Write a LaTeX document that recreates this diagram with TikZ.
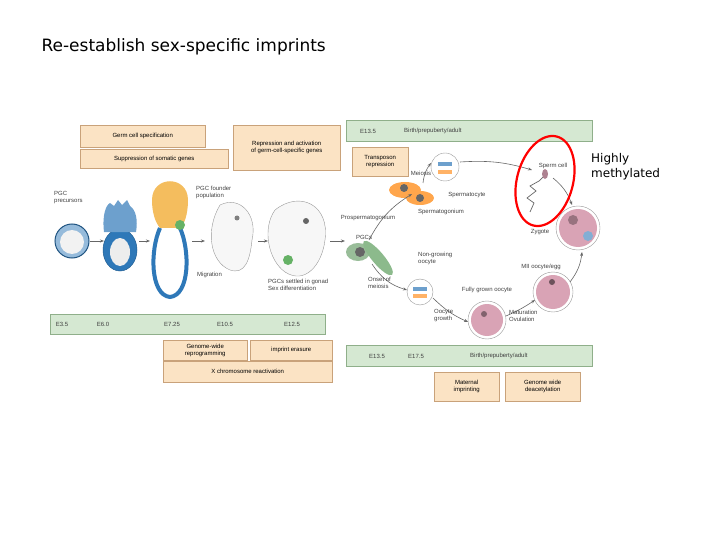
\documentclass[tikz,border=0pt]{standalone}
\usepackage{fontspec}
\setmainfont{Liberation Sans}
\newfontfamily\titlefont{DejaVu Sans}
\usetikzlibrary{arrows.meta}
\definecolor{peach}{HTML}{FBE3C4}
\definecolor{peachd}{HTML}{C9A27A}
\definecolor{gbar}{HTML}{D5E8D2}
\definecolor{gbard}{HTML}{8FAF8A}
\definecolor{pinkc}{HTML}{D9A3B5}
\definecolor{bluec}{HTML}{2E78B8}
\definecolor{orangec}{HTML}{F4BD5E}
\begin{document}
\begin{tikzpicture}[x=1pt,y=-1pt,
  lbl/.style={font=\fontsize{6}{7}\selectfont,text=black!75,align=left,inner sep=0},
  pbox/.style={draw=peachd,fill=peach,font=\fontsize{6}{7}\selectfont,align=center,inner sep=0},
  bar/.style={fill=gbar,draw=gbard},
  arr/.style={-{Stealth[length=4pt]},draw=black!60,line width=0.6pt}]
\useasboundingbox (0,0) rectangle (720,540);
\node[anchor=west,font=\titlefont\fontsize{17}{20}\selectfont] (title) at (38,47) {Re-establish sex-specific imprints};
% left top boxes
\node[pbox,minimum width=125,minimum height=22,anchor=north west] (gcs) at (80,125) {Germ cell specification};
\node[pbox,minimum width=148,minimum height=19,anchor=north west] (sup) at (80,149) {Suppression of somatic genes};
\node[pbox,minimum width=107,minimum height=45,anchor=north west] (rep) at (233,125) {Repression and activation\\of germ-cell-specific genes};
% left timeline
\draw[bar] (50,314) rectangle (325,334);
\foreach \x/\t in {62/E3.5,103/E6.0,172/E7.25,225/E10.5,292/E12.5}
  \node[lbl] at (\x,324) {\t};
\node[pbox,minimum width=84,minimum height=20,anchor=north west] (gwr) at (163,340) {Genome-wide\\reprogramming};
\node[pbox,minimum width=82,minimum height=20,anchor=north west] (ie) at (250,340) {imprint erasure};
\node[pbox,minimum width=169,minimum height=21,anchor=north west] (xcr) at (163,361) {X chromosome reactivation};
% embryos
\draw[bluec!70!black,fill=bluec!50,line width=1pt] (72,241) circle (17);
\fill[black!5] (72,242) circle (12);
\node[coordinate] (e1) at (90,241) {};
\draw[bluec!80!black,fill=bluec,line width=0.5pt] (120,250) ellipse (17 and 21);
\fill[black!7] (120,252) ellipse (10 and 14);
\fill[bluec!70] (104,232) .. controls (102,215) and (106,205) .. (110,203) -- (114,206) -- (118,200) -- (122,205) -- (127,200) -- (130,206) .. controls (136,210) and (138,220) .. (136,232) -- cycle;
\node[coordinate] (e2) at (104,241) {};
\node[coordinate] (e2b) at (139,241) {};
\fill[orangec] (152,200) .. controls (152,175) and (188,175) .. (188,200) .. controls (188,215) and (184,225) .. (180,228) -- (160,228) .. controls (155,222) and (152,212) .. (152,200) -- cycle;
\draw[bluec,line width=4pt] (160,228) .. controls (150,250) and (150,295) .. (170,297) .. controls (190,295) and (190,250) .. (180,228);
\fill[green!50!black!60] (180,225) circle (5);
\node[coordinate] (e3) at (150,241) {};
\node[coordinate] (e3b) at (192,241) {};
\draw[black!40,fill=black!3] (220,205) .. controls (240,195) and (258,215) .. (252,240) .. controls (250,260) and (245,275) .. (230,270) .. controls (210,262) and (205,230) .. (220,205) -- cycle;
\fill[black!50] (237,218) circle (2.5);
\node[coordinate] (e4) at (205,241) {};
\node[coordinate] (e4b) at (258,241) {};
\draw[black!40,fill=black!3] (275,210) .. controls (300,190) and (330,205) .. (325,240) .. controls (322,265) and (305,285) .. (285,272) .. controls (268,260) and (262,228) .. (275,210) -- cycle;
\fill[black!60] (306,221) circle (3);
\fill[green!50!black!60] (288,260) circle (5);
\node[coordinate] (e5) at (268,241) {};
\node[coordinate] (e5b) at (330,241) {};
\node[coordinate] (e6) at (345,241) {};
\draw[arr] (e1) -- (e2); \draw[arr] (e2b) -- (e3); \draw[arr] (e3b) -- (e4); \draw[arr] (e4b) -- (e5); \draw[arr] (e5b) -- (e6);
\node[lbl,anchor=north west] (pgcp) at (54,191) {PGC\\precursors};
\node[lbl,anchor=north west] (pgcf) at (196,186) {PGC founder\\population};
\node[lbl,anchor=north west] (mig) at (197,272) {Migration};
\node[lbl,anchor=north west] (settle) at (268,279) {PGCs settled in gonad\\Sex differentiation};
% right timeline
\draw[bar] (346,120) rectangle (592,141);
\node[lbl] at (368,131) {E13.5};
\node[lbl,anchor=west] at (404,131) {Birth/prepuberty/adult};
\node[pbox,minimum width=56,minimum height=29,anchor=north west] (tr) at (352,147) {Transposon\\repression};
\draw[bar] (346,345) rectangle (592,366);
\node[lbl] at (377,356) {E13.5};
\node[lbl] at (416,356) {E17.5};
\node[lbl,anchor=west] at (470,356) {Birth/prepuberty/adult};
\node[pbox,minimum width=65,minimum height=29,anchor=north west] (mi) at (434,372) {Maternal\\imprinting};
\node[pbox,minimum width=75,minimum height=29,anchor=north west] (gwd) at (505,372) {Genome wide\\deacetylation};
% germ cells cycle
\fill[green!35!black!40] (358,252) ellipse (12 and 9);
\fill[green!40!black!45,rotate around={-50:(378,258)}] (378,258) ellipse (22 and 6);
\fill[black!60] (360,252) circle (5);
\fill[orange!70] (405,190) ellipse (16 and 8);
\fill[orange!70] (420,198) ellipse (14 and 7);
\fill[black!60] (404,188) circle (4); \fill[black!60] (420,198) circle (4);
\node[coordinate] (sg) at (412,194) {};
\draw[black!40,fill=white] (445,167) circle (14);
\fill[orange!60] (438,170) rectangle (452,174);
\fill[bluec!70] (438,162) rectangle (452,166);
\draw[black!60,line width=0.7pt] (530,212) -- (534,203) -- (527,198) -- (536,191) -- (530,186) -- (539,181) -- (543,177);
\fill[pinkc!80!black] (545,174) ellipse (3 and 5);
\draw[black!40,fill=white] (578,228) circle (22);
\fill[pinkc] (578,228) circle (19);
\fill[pinkc!70!black] (573,220) circle (5);
\fill[bluec!60] (588,236) circle (5);
\draw[black!40,fill=white] (553,292) circle (20);
\fill[pinkc] (553,292) circle (17);
\fill[pinkc!50!black] (552,282) circle (3);
\draw[black!40,fill=white] (487,320) circle (19);
\fill[pinkc] (487,320) circle (16);
\fill[pinkc!60!black] (484,314) circle (3);
\draw[black!40,fill=white] (420,292) circle (13);
\fill[orange!60] (413,294) rectangle (427,298);
\fill[bluec!70] (413,287) rectangle (427,291);
\draw[arr] (369,240) to[bend left=15] (sg.south west);
\draw[arr] (423,183) to[bend left=15] (431,163);
\draw[arr] (460,162) to[bend left=10] (532,170);
\draw[arr] (553,178) to[bend left=15] (572,205);
\draw[arr] (372,264) to[bend right=20] (407,290);
\draw[arr] (433,298) to[bend right=10] (468,322);
\draw[arr] (506,316) to[bend right=5] (535,300);
\draw[arr] (570,282) to[bend right=15] (582,252);
% labels
\node[lbl] at (421,173) {Meiosis};
\node[lbl] at (467,195) {Spermatocyte};
\node[lbl] at (553,166) {Sperm cell};
\node[lbl] at (441,212) {Spermatogonium};
\node[lbl] at (368,218) {Prospermatogonium};
\node[lbl] at (364,237) {PGCs};
\node[lbl] at (540,232) {Zygote};
\node[lbl,anchor=north west] at (418,252) {Non-growing\\oocyte};
\node[lbl,anchor=north west] at (368,277) {Onset of\\meiosis};
\node[lbl] at (541,267) {MII oocyte/egg};
\node[lbl] at (487,290) {Fully grown oocyte};
\node[lbl,anchor=north west] at (434,309) {Oocyte\\growth};
\node[lbl,anchor=north west] at (509,310) {Maturation\\Ovulation};
\draw[red,line width=2.2pt,rotate around={-15:(545,181)}] (545,181) ellipse (28 and 46);
\node[anchor=north west,font=\titlefont\fontsize{12}{15.5}\selectfont,align=left,inner sep=0] (hm) at (591,153) {Highly\\methylated};
\end{tikzpicture}
\end{document}
